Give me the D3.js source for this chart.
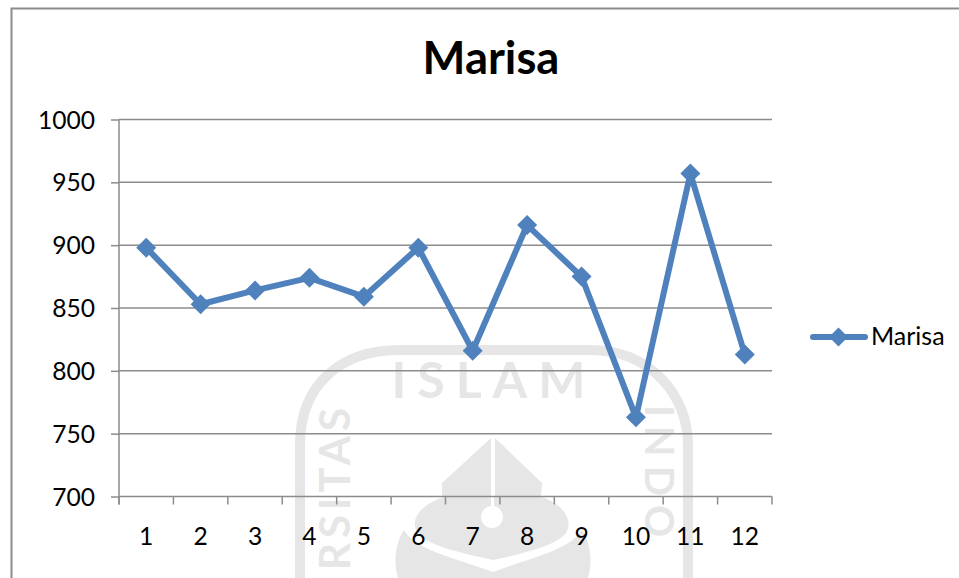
<!DOCTYPE html>
<html>
<head>
<meta charset="utf-8">
<script src="https://cdn.jsdelivr.net/npm/d3@7"></script>
<style>
html,body{margin:0;padding:0;background:#fff;overflow:hidden}
text{font-family:Lato,"Open Sans",sans-serif;fill:#000}
</style>
</head>
<body>
<svg id="c" width="959" height="578"></svg>
<script>
const title = "Marisa";
const categories = [1,2,3,4,5,6,7,8,9,10,11,12];
const values = [898,853,864,874,859,898,816,916,875,763,957,813];
const yTicks = [700,750,800,850,900,950,1000];
const watermarkTop = "ISLAM";
const watermarkLeft = "RSITAS";
const watermarkRight = "INDO";

const svg = d3.select("#c");
const W = 959, H = 578;
const plot = {l:119, r:772, t:119.5, b:496.5};
const fs = 24.6;

// frame: left and top edges only
svg.append("path").attr("d",`M11.5,${H} V8.5 H${W}`)
  .attr("fill","none").attr("stroke","#8c8c8c").attr("stroke-width",2);

// watermark
const wm = svg.append("g");
const wc = "#e6e6e6";
wm.append("path").attr("d","M300,578 V445 C300,385 340,350 400,350 H590 C650,350 688,395 688,445 V578")
  .attr("fill","none").attr("stroke",wc).attr("stroke-width",10);
wm.append("text").attr("x",494).attr("y",398).attr("text-anchor","middle")
  .attr("font-size",50).attr("font-weight",700).attr("letter-spacing",11).style("fill",wc).text(watermarkTop);
wm.append("text").attr("transform","translate(350,403) rotate(-90)").attr("text-anchor","end")
  .attr("font-size",42).attr("font-weight",700).attr("letter-spacing",5).style("fill",wc).text(watermarkLeft);
wm.append("text").attr("transform","translate(645,405) rotate(90)")
  .attr("font-size",40).attr("font-weight",700).attr("letter-spacing",9).style("fill",wc).text(watermarkRight);
wm.append("path").attr("d","M491,438 V497 H442 L442,483 Z M495,438 L542,483 L541,497 H495 Z").attr("fill",wc);
wm.append("path").attr("d","M445,497 H541 C562,503 574,520 566,533 C556,545 530,552 493,560 C455,552 428,545 418,533 C408,520 422,503 445,497 Z").attr("fill",wc);
wm.append("path").attr("d","M404,530 C415,550 455,558 493,572 C530,558 570,550 582,530 C592,545 592,565 588,578 H398 C394,565 394,545 404,530 Z").attr("fill",wc);
wm.append("circle").attr("cx",492).attr("cy",517).attr("r",11).attr("fill","#fff");
wm.append("rect").attr("x",491).attr("y",497).attr("width",3).attr("height",12).attr("fill","#fff");

const x = d3.scaleBand().domain(categories).range([plot.l,plot.r]);
const y = d3.scaleLinear().domain([700,1000]).range([plot.b,plot.t]);
const axisColor = "#8c8c8c";

// y axis ticks and gridlines
const yAxis = d3.axisLeft(y).tickValues(yTicks).tickSize(8).tickFormat(d3.format("d"));
const gy = svg.append("g").attr("transform",`translate(${plot.l},0)`).call(yAxis);
gy.select(".domain").remove();
gy.selectAll("line").attr("stroke",axisColor).attr("stroke-width",1.5);
gy.selectAll("text").attr("font-size",fs).attr("dy","0.35em").attr("x",-24);
svg.append("g").selectAll("line").data(yTicks).join("line")
  .attr("x1",plot.l).attr("x2",plot.r).attr("y1",d=>y(d)).attr("y2",d=>y(d))
  .attr("stroke",axisColor).attr("stroke-width",1.5);
svg.append("line").attr("x1",plot.l).attr("x2",plot.l).attr("y1",plot.t).attr("y2",plot.b+8)
  .attr("stroke",axisColor).attr("stroke-width",1.5);

// x axis
const edges = categories.map(d=>x(d)).concat([plot.r]);
svg.append("g").selectAll("line").data(edges).join("line")
  .attr("x1",d=>d).attr("x2",d=>d).attr("y1",plot.b).attr("y2",plot.b+8)
  .attr("stroke",axisColor).attr("stroke-width",1.5);
const gxg = svg.append("g").attr("transform",`translate(0,${plot.b})`).call(d3.axisBottom(x).tickSize(0).tickPadding(0));
gxg.select(".domain").remove();
gxg.selectAll("text").attr("font-size",fs).attr("y",31).attr("dy","0.71em");

// series
const blue = "#4f81bd";
const cx = d=>x(d)+x.bandwidth()/2;
const line = d3.line().x((d,i)=>cx(categories[i])).y(d=>y(d));
const diamond = r=>`M0,${-r} L${r},0 L0,${r} L${-r},0 Z`;
svg.append("path").datum(values).attr("d",line).attr("fill","none")
  .attr("stroke",blue).attr("stroke-width",6).attr("stroke-linecap","round").attr("stroke-linejoin","round");
svg.append("g").selectAll("path").data(values).join("path")
  .attr("d",diamond(10))
  .attr("transform",(d,i)=>`translate(${cx(categories[i])},${y(d)})`)
  .attr("fill",blue);

// title
svg.append("text").attr("x",491).attr("y",74).attr("text-anchor","middle")
  .attr("font-size",45.4).attr("font-weight",700).text(title);

// legend
svg.append("line").attr("x1",813).attr("x2",865).attr("y1",337).attr("y2",337)
  .attr("stroke",blue).attr("stroke-width",6).attr("stroke-linecap","round");
svg.append("path").attr("d",diamond(9.5)).attr("transform","translate(838.5,337)").attr("fill",blue);
svg.append("text").attr("x",871).attr("y",345).attr("font-size",fs+0.4).text(title);
</script>
</body>
</html>
